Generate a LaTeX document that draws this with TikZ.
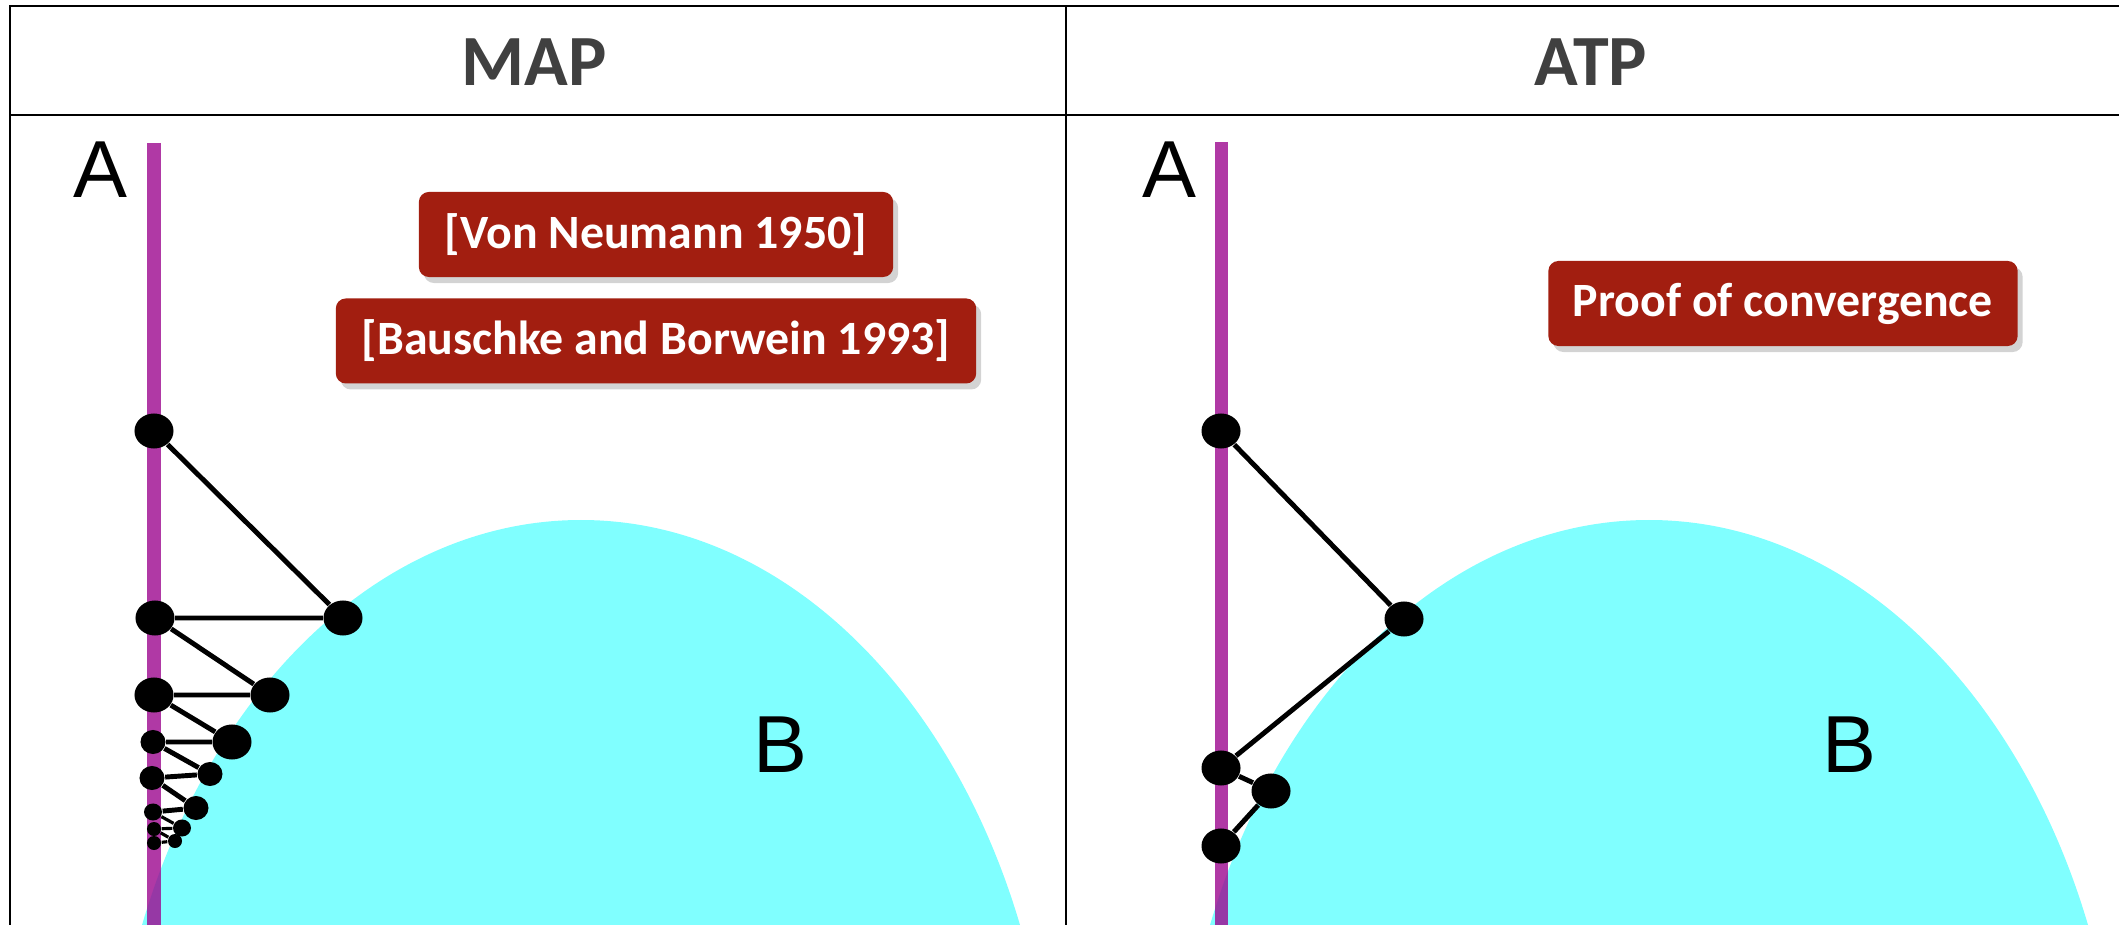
\documentclass[tikz,border=0pt]{standalone}
\usepackage{fontspec}
\usepackage{xcolor}
\usepackage{tikz}
\usetikzlibrary{positioning, shapes.geometric, shadows}
\newfontfamily\calibri{Carlito}
\newfontfamily\arialfont{Liberation Sans}
\definecolor{setA}{HTML}{9C078F}
\definecolor{setB}{HTML}{80FFFF}
\definecolor{refred}{HTML}{A21E10}
\definecolor{headgray}{HTML}{404040}

\begin{document}
\begin{tikzpicture}[x=0.01cm, y=0.01cm,
      every node/.style={inner sep=0pt},
      hdr/.style={font=\calibri\bfseries\fontsize{20.5}{25}\selectfont, text=headgray},
      refbox/.style={fill=refred, rounded corners=1mm, minimum height=8.5mm, text=white,
        font=\calibri\bfseries\fontsize{13.6}{16}\selectfont,
        drop shadow={shadow xshift=0.5mm, shadow yshift=-0.6mm, opacity=0.35}},
      lbl/.style={font=\arialfont\fontsize{23}{27}\selectfont},
      vtx/.style={ellipse, fill=black, minimum width=3.9mm, minimum height=3.5mm},
      midvtx/.style={vtx, minimum width=2.5mm, minimum height=2.4mm},
      smallvtx/.style={vtx, minimum width=1.8mm, minimum height=1.7mm},
      tinyvtx/.style={vtx, minimum size=1.4mm},
      seg/.style={line width=1.4pt},
      thinseg/.style={line width=0.9pt},
      setline/.style={setA, opacity=0.8, line width=3.7pt},
      grid/.style={line width=0.7pt}]
    \useasboundingbox (0,0) rectangle (2119,-925);

    % the two convex sets
    \begin{scope}
      \clip (10,-115) rectangle (2119,-925);
      \fill[setB] (581,-1166) ellipse [x radius=473, y radius=646];
      \fill[setB] (1649,-1166) ellipse [x radius=473, y radius=646];
    \end{scope}
    \draw[setline] (154,-143) -- (154,-925);
    \draw[setline] (1221,-142) -- (1221,-925);

    % table
    \draw[grid] (10,-925) -- (10,-6) -- (2119,-6);
    \draw[grid] (10,-115) -- (2119,-115);
    \draw[grid] (1066,-6) -- (1066,-925);
    \node[hdr] (hmap) at (534,-62) {MAP};
    \node[hdr] (hatp) at (1591,-62) {ATP};

    % MAP
    \node[lbl] (la) at (100,-170) {A};
    \node[lbl] (lb) at (780,-745) {B};
    \node[refbox, minimum width=4.74cm] (vn) at (656,-234.5) {[Von Neumann 1950]};
    \node[refbox, minimum width=6.4cm, below=2mm of vn] (bb) {[Bauschke and Borwein 1993]};
    \node[vtx] (a1) at (154,-431) {};
    \node[vtx] (b1) at (343,-618) {};
    \node[vtx] (a2) at (155,-618) {};
    \node[vtx] (b2) at (270,-695) {};
    \node[vtx] (a3) at (154,-695) {};
    \node[vtx] (b3) at (232,-742) {};
    \node[midvtx] (a4) at (153,-742) {};
    \node[midvtx] (b4) at (210,-774) {};
    \node[midvtx] (a5) at (152,-778) {};
    \node[midvtx] (b5) at (196,-808) {};
    \node[smallvtx] (a6) at (153,-812) {};
    \node[smallvtx] (b6) at (182,-828) {};
    \node[tinyvtx] (a7) at (154,-829) {};
    \node[tinyvtx] (b7) at (175,-841) {};
    \node[tinyvtx] (a8) at (154,-843) {};
    \draw[seg] (a1) -- (b1) -- (a2) -- (b2) -- (a3) -- (b3) -- (a4) -- (b4) -- (a5) -- (b5) -- (a6);
    \draw[thinseg] (a6) -- (b6) -- (a7) -- (b7) -- (a8);

    % ATP
    \node[lbl] (ra) at (1169,-170) {A};
    \node[lbl] (rb) at (1849,-745) {B};
    \node[refbox, minimum width=4.69cm] (conv) at (1783,-303.5) {Proof of convergence};
    \node[vtx] (c1) at (1221,-431) {};
    \node[vtx] (d1) at (1404,-619) {};
    \node[vtx] (c2) at (1221,-768) {};
    \node[vtx] (d2) at (1271,-791) {};
    \node[vtx] (c3) at (1221,-846) {};
    \draw[seg] (c1) -- (d1) -- (c2) -- (d2) -- (c3);
  \end{tikzpicture}
\end{document}
